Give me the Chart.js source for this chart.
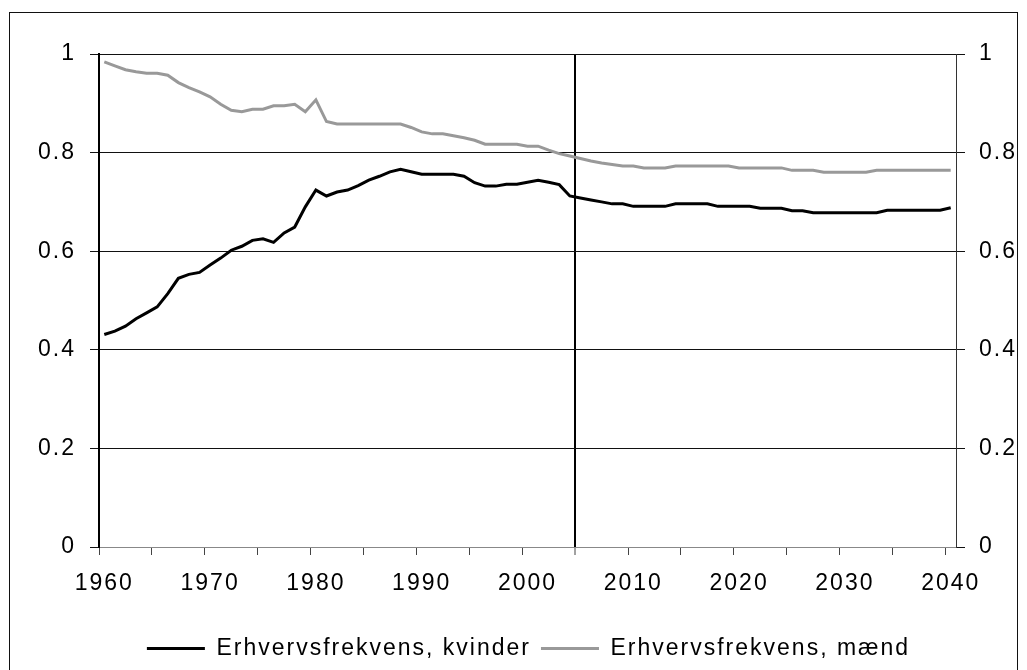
<!DOCTYPE html>
<html>
<head>
<meta charset="utf-8">
<script src="https://cdn.jsdelivr.net/npm/chart.js@4"></script>
<style>
  body { margin: 0; background: #fff; }
  #ramme { position: absolute; left: 9px; top: 12px; width: 1007px; height: 700px; border: 1px solid #111; }
  #graf { position: absolute; left: 0; top: 0; }
</style>
</head>
<body>
<div id="ramme"></div>
<canvas id="graf" width="1027" height="670"></canvas>
<script>
/* DATA */
const aar = [];
for (let a = 1960; a <= 2040; a++) aar.push(a);

const kvinder = [
    0.431, 0.438, 0.448, 0.463, 0.475, 0.487, 0.514, 0.545, 0.553, 0.557,
    0.572, 0.586, 0.602, 0.610, 0.622, 0.625, 0.618, 0.637, 0.649, 0.690,
    0.724, 0.712, 0.720, 0.724, 0.733, 0.744, 0.752, 0.761, 0.766, 0.761,
    0.756, 0.756, 0.756, 0.756, 0.752, 0.739, 0.732, 0.732, 0.736, 0.736,
    0.740, 0.744, 0.740, 0.735, 0.712, 0.708, 0.704, 0.700, 0.696, 0.696,
    0.691, 0.691, 0.691, 0.691, 0.696, 0.696, 0.696, 0.696, 0.691, 0.691,
    0.691, 0.691, 0.687, 0.687, 0.687, 0.682, 0.682, 0.678, 0.678, 0.678,
    0.678, 0.678, 0.678, 0.678, 0.683, 0.683, 0.683, 0.683, 0.683, 0.683,
    0.688
];

const maend = [
    0.984, 0.976, 0.968, 0.964, 0.961, 0.961, 0.957, 0.942, 0.932, 0.923,
    0.913, 0.898, 0.886, 0.883, 0.888, 0.888, 0.895, 0.895, 0.898, 0.883,
    0.907, 0.863, 0.858, 0.858, 0.858, 0.858, 0.858, 0.858, 0.858, 0.851,
    0.842, 0.838, 0.838, 0.834, 0.830, 0.825, 0.817, 0.817, 0.817, 0.817,
    0.813, 0.813, 0.805, 0.798, 0.793, 0.788, 0.783, 0.779, 0.776, 0.773,
    0.773, 0.769, 0.769, 0.769, 0.773, 0.773, 0.773, 0.773, 0.773, 0.773,
    0.769, 0.769, 0.769, 0.769, 0.769, 0.764, 0.764, 0.764, 0.760, 0.760,
    0.760, 0.760, 0.760, 0.764, 0.764, 0.764, 0.764, 0.764, 0.764, 0.764,
    0.764
];

const yTicks = [0, 0.2, 0.4, 0.6, 0.8, 1];
const prognoseStart = 2005;   // lodret streg mellem 2004 og 2005

/* SKRIFT */
Chart.defaults.font.family = "'Liberation Sans', Arial, sans-serif";
Chart.defaults.font.size = 23;
Chart.defaults.color = "#000";

// lidt luft mellem bogstaverne som i originalen
const bogstavLuft = {
    id: "bogstavLuft",
    beforeUpdate(chart) { chart.ctx.letterSpacing = "2px"; },
    beforeDraw(chart) { chart.ctx.letterSpacing = "2px"; }
};

const yAkse = (side) => ({
    type: "linear",
    position: side,
    min: 0,
    max: 1,
    afterBuildTicks: (s) => { s.ticks = yTicks.map(v => ({ value: v })); },
    afterFit: (s) => { s.width = side === "left" ? 69 : 71; },
    ticks: {
        padding: 14,
        callback: (v) => String(Math.round(v * 10) / 10)
    },
    grid: {
        drawOnChartArea: side === "left",
        color: (c) => c.tick && c.tick.value === 0 ? "#888" : "#111",
        lineWidth: 1,
        tickColor: "#111",
        tickLength: 9
    },
    border: { color: side === "left" ? "#000" : "#333", width: side === "left" ? 2 : 1 }
});

new Chart(document.getElementById("graf"), {
    type: "line",
    data: {
        labels: aar,
        datasets: [{
            label: "Erhvervsfrekvens, kvinder",
            data: kvinder,
            borderColor: "#000",
            backgroundColor: "#000",
            borderWidth: 3,
            pointRadius: 0,
            tension: 0
        }, {
            label: "Erhvervsfrekvens, mænd",
            data: maend,
            borderColor: "#999",
            backgroundColor: "#999",
            borderWidth: 3,
            pointRadius: 0,
            tension: 0
        }]
    },
    options: {
        responsive: false,
        animation: false,
        layout: { padding: { top: 54, left: 30, right: 0, bottom: 0 } },
        plugins: {
            legend: {
                position: "bottom",
                labels: {
                    usePointStyle: true,
                    pointStyle: "line",
                    pointStyleWidth: 58,
                    padding: 10,
                    color: "#000"
                }
            },
            tooltip: { enabled: false }
        },
        scales: {
            x: {
                type: "category",
                offset: true,
                afterFit: (s) => { s.height = 80; },
                ticks: {
                    autoSkip: false,
                    maxRotation: 0,
                    minRotation: 0,
                    padding: 15,
                    callback: (v, i) => aar[i] % 10 === 0 ? String(aar[i]) : ""
                },
                grid: {
                    offset: true,
                    color: (c) => aar[c.index] === prognoseStart ? "#000" : "rgba(0,0,0,0)",
                    lineWidth: (c) => aar[c.index] === prognoseStart ? 2 : 1,
                    tickColor: (c) => aar[c.index] !== undefined && aar[c.index] % 5 === 0 ? "#444" : "rgba(0,0,0,0)",
                    tickLength: 8,
                    tickWidth: 1
                },
                border: { display: false }
            },
            y: yAkse("left"),
            y2: yAkse("right")
        }
    },
    plugins: [bogstavLuft]
});
</script>
</body>
</html>
